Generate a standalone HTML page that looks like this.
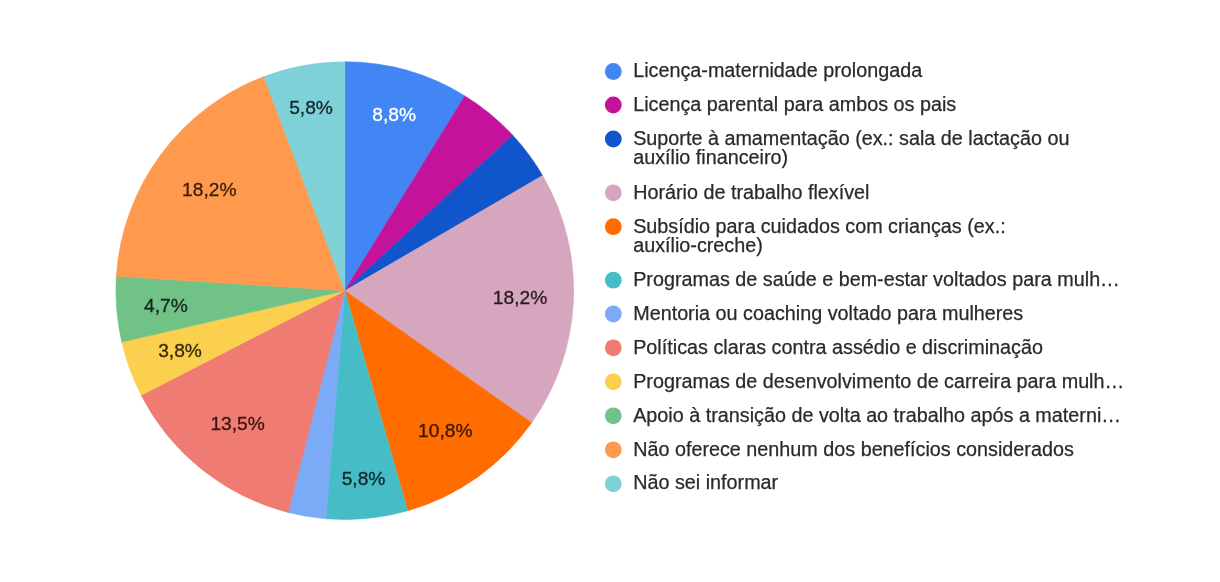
<!DOCTYPE html>
<html lang="pt-BR"><head><meta charset="utf-8"><title>Benefícios</title>
<style>
html,body{margin:0;padding:0;background:#fff;}
body{width:1220px;height:582px;overflow:hidden;}
svg{display:block;}
text{font-family:"Liberation Sans",Arial,sans-serif;}
.lg{font-size:19.78px;fill:#2a2a2a;stroke:#2a2a2a;stroke-width:0.25px;}
.lb{font-size:19.2px;text-anchor:middle;stroke-width:0.3px;}
</style></head><body>
<svg width="1220" height="582" viewBox="0 0 1220 582">
<rect width="1220" height="582" fill="#ffffff"/>

<path d="M344.8,290.7 L344.80,61.85 A228.85,228.85 0 0 1 464.88,95.89 Z" fill="#4285F4" stroke="#4285F4" stroke-width="0.6"/>
<path d="M344.8,290.7 L464.88,95.89 A228.85,228.85 0 0 1 512.71,135.21 Z" fill="#C4129A" stroke="#C4129A" stroke-width="0.6"/>
<path d="M344.8,290.7 L512.71,135.21 A228.85,228.85 0 0 1 542.59,175.58 Z" fill="#1155CC" stroke="#1155CC" stroke-width="0.6"/>
<path d="M344.8,290.7 L542.59,175.58 A228.85,228.85 0 0 1 531.64,422.84 Z" fill="#D5A6BD" stroke="#D5A6BD" stroke-width="0.6"/>
<path d="M344.8,290.7 L531.64,422.84 A228.85,228.85 0 0 1 407.65,510.75 Z" fill="#FF6D01" stroke="#FF6D01" stroke-width="0.6"/>
<path d="M344.8,290.7 L407.65,510.75 A228.85,228.85 0 0 1 325.85,518.76 Z" fill="#46BDC6" stroke="#46BDC6" stroke-width="0.6"/>
<path d="M344.8,290.7 L325.85,518.76 A228.85,228.85 0 0 1 288.08,512.41 Z" fill="#7BAAF7" stroke="#7BAAF7" stroke-width="0.6"/>
<path d="M344.8,290.7 L288.08,512.41 A228.85,228.85 0 0 1 141.17,395.13 Z" fill="#F07B72" stroke="#F07B72" stroke-width="0.6"/>
<path d="M344.8,290.7 L141.17,395.13 A228.85,228.85 0 0 1 121.77,341.99 Z" fill="#FCD04F" stroke="#FCD04F" stroke-width="0.6"/>
<path d="M344.8,290.7 L121.77,341.99 A228.85,228.85 0 0 1 116.40,276.33 Z" fill="#71C287" stroke="#71C287" stroke-width="0.6"/>
<path d="M344.8,290.7 L116.40,276.33 A228.85,228.85 0 0 1 263.91,76.62 Z" fill="#FF994D" stroke="#FF994D" stroke-width="0.6"/>
<path d="M344.8,290.7 L263.91,76.62 A228.85,228.85 0 0 1 344.80,61.85 Z" fill="#7ED1D7" stroke="#7ED1D7" stroke-width="0.6"/>
<text class="lb" x="394.1" y="120.7" fill="#ffffff" stroke="#ffffff">8,8%</text>
<text class="lb" x="520.0" y="303.5" fill="#2a1a24" stroke="#2a1a24">18,2%</text>
<text class="lb" x="445.3" y="437.3" fill="#3a1800" stroke="#3a1800">10,8%</text>
<text class="lb" x="363.5" y="484.5" fill="#10262a" stroke="#10262a">5,8%</text>
<text class="lb" x="237.6" y="430.0" fill="#351512" stroke="#351512">13,5%</text>
<text class="lb" x="180.0" y="356.7" fill="#33290c" stroke="#33290c">3,8%</text>
<text class="lb" x="165.9" y="311.8" fill="#12281a" stroke="#12281a">4,7%</text>
<text class="lb" x="209.3" y="196.0" fill="#3a1f0a" stroke="#3a1f0a">18,2%</text>
<text class="lb" x="311.0" y="114.0" fill="#14282a" stroke="#14282a">5,8%</text>
<circle cx="613.3" cy="71.5" r="8.4" fill="#4285F4"/>
<text class="lg" x="633.2" y="77.0">Licença-maternidade prolongada</text>
<circle cx="613.3" cy="105.0" r="8.4" fill="#C4129A"/>
<text class="lg" x="633.2" y="110.8">Licença parental para ambos os pais</text>
<circle cx="613.3" cy="139.0" r="8.4" fill="#1155CC"/>
<text class="lg" x="633.2" y="145.2">Suporte à amamentação (ex.: sala de lactação ou</text>
<text class="lg" x="633.2" y="164.2">auxílio financeiro)</text>
<circle cx="613.3" cy="192.8" r="8.4" fill="#D5A6BD"/>
<text class="lg" x="633.2" y="198.7">Horário de trabalho flexível</text>
<circle cx="613.3" cy="226.7" r="8.4" fill="#FF6D01"/>
<text class="lg" x="633.2" y="232.6">Subsídio para cuidados com crianças (ex.:</text>
<text class="lg" x="633.2" y="251.7">auxílio-creche)</text>
<circle cx="613.3" cy="280.2" r="8.4" fill="#46BDC6"/>
<text class="lg" x="633.2" y="286.2">Programas de saúde e bem-estar voltados para mulh…</text>
<circle cx="613.3" cy="314.0" r="8.4" fill="#7BAAF7"/>
<text class="lg" x="633.2" y="320.1">Mentoria ou coaching voltado para mulheres</text>
<circle cx="613.3" cy="347.8" r="8.4" fill="#F07B72"/>
<text class="lg" x="633.2" y="354.0">Políticas claras contra assédio e discriminação</text>
<circle cx="613.3" cy="381.8" r="8.4" fill="#FCD04F"/>
<text class="lg" x="633.2" y="387.6">Programas de desenvolvimento de carreira para mulh…</text>
<circle cx="613.3" cy="415.8" r="8.4" fill="#71C287"/>
<text class="lg" x="633.2" y="421.6">Apoio à transição de volta ao trabalho após a materni…</text>
<circle cx="613.3" cy="449.8" r="8.4" fill="#FF994D"/>
<text class="lg" x="633.2" y="455.5">Não oferece nenhum dos benefícios considerados</text>
<circle cx="613.3" cy="483.8" r="8.4" fill="#7ED1D7"/>
<text class="lg" x="633.2" y="489.2">Não sei informar</text>
</svg></body></html>
